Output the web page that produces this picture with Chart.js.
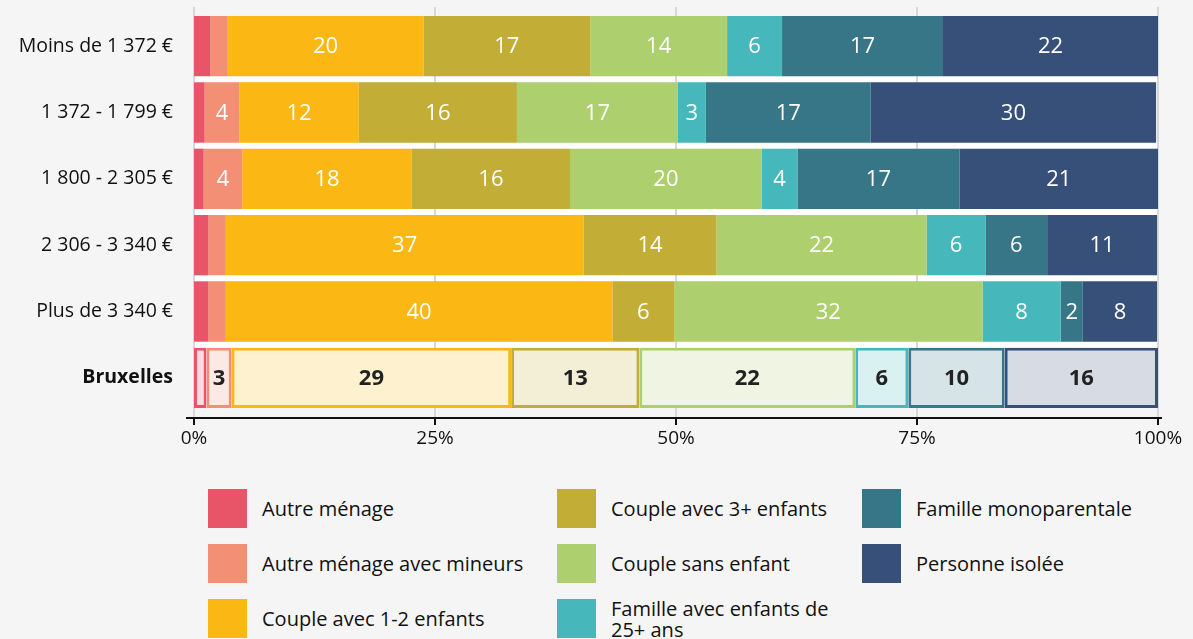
<!DOCTYPE html>
<html lang="fr">
<head>
<meta charset="utf-8">
<script src="https://cdn.jsdelivr.net/npm/chart.js@4"></script>
<style>
  body { margin: 0; background: #f5f5f5; font-family: "Open Sans", sans-serif; }
  #wrap { position: relative; width: 1193px; height: 639px; }
  #chart { position: absolute; left: 0; top: 0; }
  #legend { position: absolute; left: 208px; top: 489px; display: grid;
    grid-template-columns: 349px 305px 290px; grid-auto-flow: column;
    grid-template-rows: 39px 39px 39px; row-gap: 16px; }
  .item { display: flex; align-items: center; font-size: 20px; color: #111; white-space: nowrap; }
  .box { width: 39px; height: 39px; flex: none; margin-right: 15px; }
  .item span { line-height: 21px; }
  .item.wrap { white-space: normal; }
  .item.wrap span { max-width: 235px; }
</style>
</head>
<body>
<div id="wrap">
  <canvas id="chart" width="1193" height="465"></canvas>
  <div id="legend"></div>
</div>
<script>
const categories = ["Moins de 1 372 €", "1 372 - 1 799 €", "1 800 - 2 305 €", "2 306 - 3 340 €", "Plus de 3 340 €", "Bruxelles"];
const seriesNames = ["Autre ménage", "Autre ménage avec mineurs", "Couple avec 1-2 enfants", "Couple avec 3+ enfants",
  "Couple sans enfant", "Famille avec enfants de 25+ ans", "Famille monoparentale", "Personne isolée"];
const autreMenage = [1.7, 1.1, 1.0, 1.5, 1.5, 1.3];
const autreMineurs = [1.8, 3.6, 4.0, 1.8, 1.8, 2.6];
const couple12 = [20.3, 12.4, 17.6, 37.1, 40.1, 29.0];
const couple3 = [17.3, 16.4, 16.4, 13.8, 6.4, 13.3];
const coupleSans = [14.2, 16.7, 19.9, 21.8, 32.0, 22.4];
const famille25 = [5.7, 2.9, 3.7, 6.1, 8.1, 5.5];
const monoparentale = [16.7, 17.1, 16.8, 6.4, 2.3, 10.0];
const isolee = [22.3, 29.6, 20.6, 11.4, 7.7, 15.9];
const xTicks = [0, 25, 50, 75, 100];

const FONT = "Open Sans";
const colors = ["#e85468", "#f38f74", "#fbb714", "#c2ae36", "#aecf6e", "#46b8bb", "#367686", "#37507a"];
const allSeries = [autreMenage, autreMineurs, couple12, couple3, coupleSans, famille25, monoparentale, isolee];
const totalRow = categories.length - 1;

// mix colour with white for the Bruxelles row
function light(hex, a) {
  const n = parseInt(hex.slice(1), 16);
  const c = [n >> 16, (n >> 8) & 255, n & 255].map((v) => Math.round(255 - a * (255 - v)));
  return `rgb(${c[0]},${c[1]},${c[2]})`;
}

const datasets = allSeries.map((data, i) => ({
  label: seriesNames[i],
  data: data,
  backgroundColor: (ctx) => (ctx.dataIndex === totalRow ? light(colors[i], 0.2) : colors[i]),
  borderColor: colors[i],
  borderWidth: (ctx) => (ctx.dataIndex === totalRow ? 3 : 0),
  borderSkipped: false,
  categoryPercentage: 1,
  barPercentage: 0.91,
}));

// white gaps between rows, grid lines and the bottom axis
const backPlugin = {
  id: "backGrid",
  beforeDatasetsDraw(chart) {
    const { ctx, chartArea } = chart;
    const x = chart.scales.x;
    const x0 = x.getPixelForValue(0), x1 = x.getPixelForValue(100);
    const bars = chart.getDatasetMeta(0).data;
    ctx.save();
    ctx.fillStyle = "#ffffff";
    for (let i = 0; i < bars.length - 1; i++) {
      const b = bars[i].y + bars[i].height / 2;
      const t = bars[i + 1].y - bars[i + 1].height / 2;
      ctx.fillRect(x0, b, x1 - x0, t - b);
    }
    ctx.strokeStyle = "#d8d8d8";
    ctx.lineWidth = 2;
    xTicks.forEach((v) => {
      const px = Math.round(x.getPixelForValue(v));
      ctx.beginPath();
      ctx.moveTo(px, chartArea.top - 6);
      ctx.lineTo(px, chartArea.bottom + 6);
      ctx.stroke();
    });
    ctx.strokeStyle = "#111";
    const ay = chartArea.bottom + 7;
    ctx.beginPath();
    ctx.moveTo(x0 - 8, ay);
    ctx.lineTo(x1 + 4, ay);
    ctx.stroke();
    xTicks.forEach((v) => {
      const px = Math.round(x.getPixelForValue(v));
      ctx.beginPath();
      ctx.moveTo(px, ay);
      ctx.lineTo(px, ay + 7);
      ctx.stroke();
    });
    ctx.restore();
  },
};

// value labels inside the segments
const labelPlugin = {
  id: "segLabels",
  afterDatasetsDraw(chart) {
    const { ctx } = chart;
    ctx.save();
    ctx.textAlign = "center";
    ctx.textBaseline = "middle";
    chart.data.datasets.forEach((ds, di) => {
      chart.getDatasetMeta(di).data.forEach((el, i) => {
        const v = ds.data[i];
        if (v < 2) return;
        if (i === totalRow) {
          ctx.fillStyle = "#222";
          ctx.font = `bold 22px "${FONT}"`;
        } else {
          ctx.fillStyle = "#ffffff";
          ctx.font = `22px "${FONT}"`;
        }
        ctx.fillText(String(Math.round(v)), (el.x + el.base) / 2, el.y + 1);
      });
    });
    ctx.restore();
  },
};

new Chart(document.getElementById("chart"), {
  type: "bar",
  data: { labels: categories, datasets: datasets },
  plugins: [backPlugin, labelPlugin],
  options: {
    indexAxis: "y",
    responsive: false,
    animation: false,
    layout: { padding: { top: 13, right: 35, left: 0, bottom: 0 } },
    plugins: { legend: { display: false }, tooltip: { enabled: false } },
    scales: {
      x: {
        stacked: true,
        min: 0,
        max: 100,
        afterBuildTicks: (scale) => { scale.ticks = xTicks.map((v) => ({ value: v })); },
        afterFit: (scale) => {
          scale.height = 54;
          scale.paddingLeft = 0;
          scale.paddingRight = 0;
        },
        grid: { display: false },
        border: { display: false },
        ticks: {
          padding: 8,
          color: "#111",
          font: { family: FONT, size: 19 },
          callback: (v) => v + "%",
        },
      },
      y: {
        stacked: true,
        afterFit: (scale) => {
          scale.width = 194;
          scale.paddingTop = 0;
          scale.paddingBottom = 0;
        },
        grid: { display: false, drawTicks: false },
        border: { display: false },
        ticks: {
          padding: 21,
          color: "#111",
          font: (ctx) => ({ family: FONT, size: 19.5, weight: ctx.index === totalRow ? "bold" : "normal" }),
        },
      },
    },
  },
});

// legend, filled column by column
const legend = document.getElementById("legend");
seriesNames.forEach((name, i) => {
  const item = document.createElement("div");
  item.className = "item" + (name.length > 28 ? " wrap" : "");
  item.innerHTML = `<div class="box" style="background:${colors[i]}"></div><span>${name}</span>`;
  legend.appendChild(item);
});
</script>
</body>
</html>
